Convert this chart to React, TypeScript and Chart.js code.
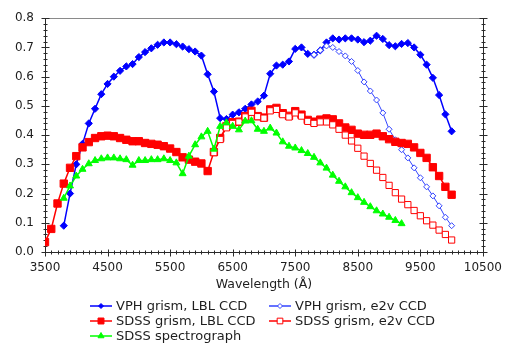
import React, { useEffect, useRef } from "react";
import { Chart, registerables } from "chart.js";

Chart.register(...registerables);

// Axis ticks
const wavelengthTicks = [3500, 4500, 5500, 6500, 7500, 8500, 9500, 10500];
const efficiencyTicks = [0, 0.1, 0.2, 0.3, 0.4, 0.5, 0.6, 0.7, 0.8];
const wavelengthMinorStep = 100;
const efficiencyMinorStep = 0.02;

// VPH grism, LBL CCD
const vphLblWave = [
  3800, 3900, 4000, 4100, 4200, 4300, 4400, 4500, 4600, 4700, 4800, 4900, 5000, 5100, 5200, 5300,
  5400, 5500, 5600, 5700, 5800, 5900, 6000, 6100, 6200, 6300, 6400, 6500, 6600, 6700, 6800, 6900,
  7000, 7100, 7200, 7300, 7400, 7500, 7600, 7700, 7800, 7900, 8000, 8100, 8200, 8300, 8400, 8500,
  8600, 8700, 8800, 8900, 9000, 9100, 9200, 9300, 9400, 9500, 9600, 9700, 9800, 9900, 10000,
];
const vphLblEff = [
  0.09, 0.2, 0.3, 0.37, 0.44, 0.49, 0.54, 0.575, 0.6, 0.62, 0.635, 0.643, 0.667, 0.684, 0.697, 0.709,
  0.717, 0.717, 0.711, 0.703, 0.694, 0.686, 0.672, 0.608, 0.549, 0.458, 0.455, 0.47, 0.478, 0.49, 0.505, 0.515,
  0.535, 0.61, 0.638, 0.641, 0.652, 0.695, 0.7, 0.678, 0.675, 0.69, 0.717, 0.731, 0.727, 0.731, 0.731, 0.727,
  0.718, 0.723, 0.74, 0.729, 0.708, 0.704, 0.712, 0.715, 0.7, 0.675, 0.641, 0.596, 0.537, 0.471, 0.413,
];

// VPH grism, e2v CCD
const vphE2vWave = [
  7800, 7900, 8000, 8100, 8200, 8300, 8400, 8500, 8600, 8700, 8800, 8900, 9000, 9100, 9200, 9300,
  9400, 9500, 9600, 9700, 9800, 9900, 10000,
];
const vphE2vEff = [
  0.675, 0.69, 0.705, 0.7, 0.686, 0.671, 0.652, 0.621, 0.582, 0.551, 0.52, 0.476, 0.42, 0.384, 0.35, 0.322,
  0.288, 0.254, 0.223, 0.192, 0.158, 0.119, 0.09,
];

// SDSS grism, LBL CCD
const sdssLblWave = [
  3500, 3600, 3700, 3800, 3900, 4000, 4100, 4200, 4300, 4400, 4500, 4600, 4700, 4800, 4900, 5000,
  5100, 5200, 5300, 5400, 5500, 5600, 5700, 5800, 5900, 6000, 6100, 6200, 6300, 6400, 6500, 6600,
  6700, 6800, 6900, 7000, 7100, 7200, 7300, 7400, 7500, 7600, 7700, 7800, 7900, 8000, 8100, 8200,
  8300, 8400, 8500, 8600, 8700, 8800, 8900, 9000, 9100, 9200, 9300, 9400, 9500, 9600, 9700, 9800,
  9900, 10000,
];
const sdssLblEff = [
  0.034, 0.079, 0.166, 0.234, 0.288, 0.328, 0.358, 0.376, 0.39, 0.396, 0.398, 0.396, 0.39, 0.384, 0.379, 0.379,
  0.373, 0.37, 0.367, 0.362, 0.354, 0.342, 0.324, 0.316, 0.309, 0.303, 0.277, 0.342, 0.39, 0.43, 0.444, 0.446,
  0.465, 0.483, 0.465, 0.46, 0.488, 0.493, 0.475, 0.466, 0.482, 0.47, 0.452, 0.446, 0.453, 0.457, 0.454, 0.44,
  0.426, 0.418, 0.405, 0.401, 0.401, 0.405, 0.396, 0.386, 0.377, 0.373, 0.37, 0.358, 0.339, 0.322, 0.29, 0.26,
  0.223, 0.196,
];

// SDSS grism, e2v CCD
const sdssE2vWave = [
  6200, 6300, 6400, 6500, 6600, 6700, 6800, 6900, 7000, 7100, 7200, 7300, 7400, 7500, 7600, 7700,
  7800, 7900, 8000, 8100, 8200, 8300, 8400, 8500, 8600, 8700, 8800, 8900, 9000, 9100, 9200, 9300,
  9400, 9500, 9600, 9700, 9800, 9900, 10000,
];
const sdssE2vEff = [
  0.34, 0.385, 0.425, 0.44, 0.445, 0.462, 0.478, 0.463, 0.458, 0.483, 0.488, 0.47, 0.462, 0.476, 0.465, 0.447,
  0.44, 0.445, 0.445, 0.435, 0.42, 0.4, 0.38, 0.355, 0.328, 0.303, 0.28, 0.255, 0.228, 0.203, 0.181, 0.162,
  0.142, 0.124, 0.107, 0.092, 0.075, 0.06, 0.041,
];

// SDSS spectrograph
const sdssSpecWave = [
  3800, 3900, 4000, 4100, 4200, 4300, 4400, 4500, 4600, 4700, 4800, 4900, 5000, 5100, 5200, 5300,
  5400, 5500, 5600, 5700, 5800, 5900, 6000, 6100, 6200, 6300, 6400, 6500, 6600, 6700, 6800, 6900,
  7000, 7100, 7200, 7300, 7400, 7500, 7600, 7700, 7800, 7900, 8000, 8100, 8200, 8300, 8400, 8500,
  8600, 8700, 8800, 8900, 9000, 9100, 9200,
];
const sdssSpecEff = [
  0.184, 0.226, 0.26, 0.283, 0.302, 0.313, 0.319, 0.322, 0.322, 0.319, 0.316, 0.297, 0.313, 0.313, 0.316, 0.316,
  0.319, 0.313, 0.305, 0.268, 0.328, 0.367, 0.394, 0.413, 0.352, 0.43, 0.442, 0.43, 0.418, 0.448, 0.449, 0.42,
  0.413, 0.424, 0.407, 0.377, 0.362, 0.356, 0.347, 0.337, 0.324, 0.305, 0.287, 0.263, 0.242, 0.223, 0.203, 0.186,
  0.17, 0.155, 0.141, 0.13, 0.119, 0.108, 0.097,
];

const FONT = "'DejaVu Sans', Verdana, sans-serif";
const TEXT_COLOR = "#1e1e1e";

type SeriesStyle = {
  label: string;
  wave: number[];
  eff: number[];
  color: string;
  lineWidth: number;
  pointStyle: string;
  radius: number;
  legendRadius: number;
  fill: string;
  pointBorderWidth: number;
};

const series: SeriesStyle[] = [
  { label: "VPH grism, LBL CCD", wave: vphLblWave, eff: vphLblEff, color: "#0000ff", lineWidth: 1.5, pointStyle: "rectRot", radius: 3.6, legendRadius: 2.5, fill: "#0000ff", pointBorderWidth: 1 },
  { label: "VPH grism, e2v CCD", wave: vphE2vWave, eff: vphE2vEff, color: "#3344ff", lineWidth: 1, pointStyle: "rectRot", radius: 3, legendRadius: 2.5, fill: "#ffffff", pointBorderWidth: 1 },
  { label: "SDSS grism, LBL CCD", wave: sdssLblWave, eff: sdssLblEff, color: "#ff0000", lineWidth: 1.5, pointStyle: "rect", radius: 5.2, legendRadius: 4.2, fill: "#ff0000", pointBorderWidth: 1 },
  { label: "SDSS grism, e2v CCD", wave: sdssE2vWave, eff: sdssE2vEff, color: "#ff0000", lineWidth: 1, pointStyle: "rect", radius: 4.4, legendRadius: 4, fill: "#ffffff", pointBorderWidth: 1 },
  { label: "SDSS spectrograph", wave: sdssSpecWave, eff: sdssSpecEff, color: "#00ff00", lineWidth: 1.5, pointStyle: "triangle", radius: 4, legendRadius: 3.5, fill: "#00ff00", pointBorderWidth: 1 },
];

// Marker shapes for the legend
function drawMarker(ctx: CanvasRenderingContext2D, s: SeriesStyle, x: number, y: number) {
  ctx.beginPath();
  const r = s.legendRadius;
  if (s.pointStyle === "rectRot") {
    ctx.moveTo(x, y - r);
    ctx.lineTo(x + r, y);
    ctx.lineTo(x, y + r);
    ctx.lineTo(x - r, y);
    ctx.closePath();
  } else if (s.pointStyle === "rect") {
    const h = r * Math.SQRT1_2;
    ctx.rect(x - h, y - h, 2 * h, 2 * h);
  } else {
    ctx.moveTo(x, y - r);
    ctx.lineTo(x + r * 0.866, y + r * 0.5);
    ctx.lineTo(x - r * 0.866, y + r * 0.5);
    ctx.closePath();
  }
  ctx.fillStyle = s.fill;
  ctx.fill();
  ctx.lineWidth = s.pointBorderWidth;
  ctx.strokeStyle = s.color;
  ctx.stroke();
}

const framePlugin = {
  id: "frame",
  beforeDatasetsDraw(chart: any) {
    const { ctx, chartArea: a, scales } = chart;
    const xs = scales.x;
    const ys = scales.y;
    const L = Math.round(a.left) + 0.5;
    const R = Math.round(a.right) + 0.5;
    const T = Math.round(a.top) + 0.5;
    const B = Math.round(a.bottom) + 0.5;
    ctx.save();
    ctx.lineWidth = 1;
    ctx.strokeStyle = "#8a8a8a";
    ctx.beginPath();
    ctx.moveTo(L, T);
    ctx.lineTo(R, T);
    ctx.stroke();

    ctx.strokeStyle = "#2a2a2a";
    ctx.beginPath();
    ctx.moveTo(L, T);
    ctx.lineTo(L, B);
    ctx.lineTo(R, B);
    ctx.moveTo(R, T);
    ctx.lineTo(R, B);
    ctx.stroke();

    ctx.beginPath();
    // wavelength ticks along the bottom
    const xMin = wavelengthTicks[0];
    const xMax = wavelengthTicks[wavelengthTicks.length - 1];
    for (let v = xMin; v <= xMax + 1e-6; v += wavelengthMinorStep) {
      const px = Math.round(xs.getPixelForValue(v)) + 0.5;
      const major = wavelengthTicks.includes(Math.round(v));
      ctx.moveTo(px, B - (major ? 3 : 2));
      ctx.lineTo(px, B + (major ? 4 : 2));
    }
    // efficiency ticks on both sides
    const yMax = efficiencyTicks[efficiencyTicks.length - 1];
    for (let v = 0; v <= yMax + 1e-6; v += efficiencyMinorStep) {
      const py = Math.round(ys.getPixelForValue(v)) + 0.5;
      const major = efficiencyTicks.some((t) => Math.abs(t - v) < 1e-6);
      const len = major ? 4 : 2;
      ctx.moveTo(L - len, py);
      ctx.lineTo(L + len, py);
      ctx.moveTo(R - len, py);
      ctx.lineTo(R + len, py);
    }
    ctx.stroke();
    ctx.restore();
  },
  afterDraw(chart: any) {
    const { ctx, chartArea: a } = chart;
    ctx.save();
    ctx.fillStyle = TEXT_COLOR;
    ctx.font = `12.5px ${FONT}`;
    ctx.textAlign = "center";
    ctx.textBaseline = "middle";
    ctx.fillText("Wavelength (\u00c5)", (a.left + a.right) / 2, 285);

    // Legend: two columns, three rows
    const cols = [90, 269];
    const rows = [306, 321, 336];
    ctx.textAlign = "left";
    ctx.font = `13px ${FONT}`;
    series.forEach((s, i) => {
      const cx = cols[i % 2];
      const cy = rows[Math.floor(i / 2)];
      ctx.beginPath();
      ctx.strokeStyle = s.color;
      ctx.lineWidth = 1.5;
      ctx.moveTo(cx, cy);
      ctx.lineTo(cx + 22, cy);
      ctx.stroke();
      drawMarker(ctx, s, cx + 11, cy);
      ctx.fillStyle = TEXT_COLOR;
      ctx.fillText(s.label, cx + 26, cy + 0.5);
    });
    ctx.restore();
  },
};

export default function App() {
  const canvasRef = useRef<HTMLCanvasElement | null>(null);

  useEffect(() => {
    const canvas = canvasRef.current;
    if (!canvas) return;
    const chart = new Chart(canvas, {
      type: "line",
      data: {
        datasets: series.map((s, i) => ({
          label: s.label,
          data: s.wave.map((w, k) => ({ x: w, y: s.eff[k] })),
          borderColor: s.color,
          borderWidth: s.lineWidth,
          backgroundColor: s.fill,
          pointStyle: s.pointStyle as any,
          pointRadius: s.radius,
          pointBackgroundColor: s.fill,
          pointBorderColor: s.color,
          pointBorderWidth: s.pointBorderWidth,
          tension: 0,
          fill: false,
          order: series.length - i,
        })),
      },
      options: {
        animation: false,
        responsive: false,
        devicePixelRatio: 1,
        layout: { padding: { left: 0, top: 15, right: 25, bottom: 0 } },
        plugins: {
          legend: { display: false },
          tooltip: { enabled: false },
          title: { display: false },
        },
        scales: {
          x: {
            type: "linear",
            min: wavelengthTicks[0],
            max: wavelengthTicks[wavelengthTicks.length - 1],
            afterBuildTicks: (scale: any) => {
              scale.ticks = wavelengthTicks.map((v) => ({ value: v }));
            },
            afterFit: (scale: any) => {
              scale.height = 91;
            },
            grid: { display: false, drawTicks: false },
            border: { display: false },
            ticks: {
              autoSkip: false,
              maxRotation: 0,
              padding: 9,
              color: TEXT_COLOR,
              font: { family: FONT, size: 12 },
              callback: (v: any) => String(v),
            },
          },
          y: {
            type: "linear",
            min: efficiencyTicks[0],
            max: efficiencyTicks[efficiencyTicks.length - 1],
            afterBuildTicks: (scale: any) => {
              scale.ticks = efficiencyTicks.map((v) => ({ value: v }));
            },
            afterFit: (scale: any) => {
              scale.width = 45;
            },
            grid: { display: false, drawTicks: false },
            border: { display: false },
            ticks: {
              padding: 11,
              color: TEXT_COLOR,
              font: { family: FONT, size: 12 },
              callback: (v: any) => Number(v).toFixed(1),
            },
          },
        },
      },
      plugins: [framePlugin],
    });
    return () => chart.destroy();
  }, []);

  return (
    <div style={{ position: "absolute", left: 0, top: 0, width: 511, height: 343, background: "#fff" }}>
      <canvas ref={canvasRef} width={511} height={343} />
    </div>
  );
}
